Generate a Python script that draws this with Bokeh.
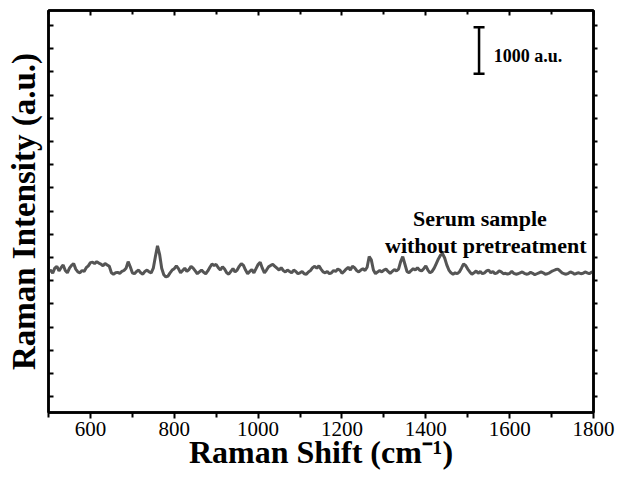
from bokeh.plotting import figure
from bokeh.models import Range1d, FixedTicker, LinearAxis, Label, Whisker, TeeHead
from bokeh.embed import file_html
from bokeh.resources import INLINE

# ---- data ----
raman_shift = list(range(500, 1805, 5))
intensity = [
    2690, 2730, 2660, 2770, 2810, 2710, 2780, 2840, 2720, 2670,
    2770, 2830, 2870, 2750, 2690, 2670, 2720, 2700, 2780, 2820,
    2890, 2900, 2870, 2910, 2880, 2860, 2820, 2870, 2840, 2810,
    2670, 2640, 2670, 2680, 2660, 2700, 2720, 2770, 2910, 2800,
    2670, 2650, 2700, 2730, 2670, 2640, 2700, 2730, 2690, 2670,
    2770, 3020, 3250, 3070, 2770, 2630, 2580, 2600, 2670, 2730,
    2760, 2820, 2760, 2670, 2720, 2770, 2700, 2740, 2810, 2770,
    2710, 2650, 2690, 2730, 2680, 2650, 2710, 2790, 2860, 2830,
    2850, 2780, 2730, 2800, 2750, 2670, 2640, 2700, 2760, 2690,
    2730, 2810, 2870, 2830, 2730, 2650, 2700, 2740, 2670, 2760,
    2850, 2900, 2770, 2670, 2730, 2800, 2830, 2850, 2810, 2770,
    2730, 2780, 2720, 2690, 2730, 2700, 2670, 2730, 2700, 2650,
    2670, 2700, 2650, 2640, 2690, 2720, 2780, 2810, 2770, 2820,
    2750, 2690, 2670, 2700, 2650, 2670, 2720, 2700, 2750, 2730,
    2660, 2700, 2750, 2790, 2730, 2810, 2780, 2720, 2690, 2730,
    2760, 2720, 2790, 3020, 2950, 2730, 2650, 2690, 2720, 2690,
    2730, 2750, 2700, 2660, 2700, 2740, 2710, 2750, 2910, 3020,
    2860, 2700, 2670, 2720, 2760, 2730, 2780, 2730, 2710, 2760,
    2820, 2730, 2670, 2700, 2770, 2870, 2970, 3050, 3080, 2990,
    2840, 2730, 2670, 2640, 2670, 2650, 2690, 2770, 2860, 2830,
    2750, 2690, 2640, 2670, 2710, 2660, 2700, 2650, 2670, 2710,
    2730, 2670, 2700, 2650, 2670, 2710, 2690, 2650, 2660, 2640,
    2660, 2700, 2660, 2640, 2650, 2670, 2690, 2660, 2640, 2650,
    2680, 2660, 2630, 2650, 2670, 2690, 2670, 2640, 2650, 2670,
    2700, 2720, 2740, 2750, 2710, 2670, 2650, 2640, 2660, 2690,
    2670, 2640, 2660, 2670, 2650, 2660, 2690, 2670, 2650, 2680,
    2700,
]
x_ticks = [600, 800, 1000, 1200, 1400, 1600, 1800]
x_minor_ticks = [500, 700, 900, 1100, 1300, 1500, 1700]
y_ticks = [0, 500, 1000, 1500, 2000, 2500, 3000, 3500, 4000, 4500,
           5000, 5500, 6000, 6500, 7000, 7500, 8000]
scale_bar = {"x": 1527, "low": 6960, "high": 7960, "label": "1000 a.u."}
annotation_lines = ["Serum sample", "without pretreatment"]
x_title = "Raman Shift (cm\u207b\u00b9)"
y_title = "Raman Intensity (a.u.)"

SERIF = "Liberation Serif"

p = figure(width=618, height=477, output_backend="svg", toolbar_location=None,
           x_range=Range1d(500, 1800), y_range=Range1d(-340, 8323),
           min_border_left=48, min_border_right=25, min_border_top=10,
           min_border_bottom=65)
p.grid.visible = False
p.outline_line_color = "black"
p.outline_line_width = 2.5
p.background_fill_color = "white"
p.border_fill_color = "white"

p.line(raman_shift, intensity, line_color="#555555", line_width=3)

# bottom axis
xa = p.xaxis[0]
xa.ticker = FixedTicker(ticks=x_ticks, minor_ticks=x_minor_ticks)
xa.axis_line_width = 2.5
xa.major_tick_line_width = 2
xa.minor_tick_line_width = 2
xa.major_tick_out = 6
xa.major_tick_in = 0
xa.minor_tick_out = 5
xa.minor_tick_in = 0
xa.major_label_text_font = SERIF
xa.major_label_text_font_size = "21px"
xa.major_label_text_color = "black"
xa.major_label_standoff = 3
xa.axis_label = x_title
xa.axis_label_text_font = SERIF
xa.axis_label_text_font_style = "bold"
xa.axis_label_text_font_size = "32px"
xa.axis_label_text_color = "black"
xa.axis_label_standoff = -5

blank_y = {v: "" for v in y_ticks}
blank_x = {v: "" for v in x_ticks}

# left axis (no tick labels)
ya = p.yaxis[0]
ya.ticker = FixedTicker(ticks=y_ticks)
ya.axis_line_width = 2.5
ya.major_tick_line_width = 2
ya.major_tick_in = 5
ya.major_tick_out = 0
ya.minor_tick_in = 0
ya.minor_tick_out = 0
ya.major_label_overrides = blank_y
ya.major_label_standoff = 0
ya.axis_label = y_title
ya.axis_label_text_font = SERIF
ya.axis_label_text_font_style = "bold"
ya.axis_label_text_font_size = "33px"
ya.axis_label_text_color = "black"
ya.axis_label_standoff = 7

# top and right mirror axes
top = LinearAxis(ticker=FixedTicker(ticks=x_ticks, minor_ticks=x_minor_ticks),
                 axis_line_width=2.5, major_tick_line_width=2, minor_tick_line_width=2,
                 major_tick_in=5, major_tick_out=0, minor_tick_in=4, minor_tick_out=0,
                 major_label_overrides=blank_x, major_label_standoff=0)
p.add_layout(top, "above")
right = LinearAxis(ticker=FixedTicker(ticks=y_ticks),
                   axis_line_width=2.5, major_tick_line_width=2,
                   major_tick_in=0, major_tick_out=4, minor_tick_in=0, minor_tick_out=0,
                   major_label_overrides=blank_y, major_label_standoff=0)
p.add_layout(right, "right")

# scale bar
wh = Whisker(base=scale_bar["x"], lower=scale_bar["low"], upper=scale_bar["high"],
             dimension="height", line_color="black", line_width=2.5,
             upper_head=TeeHead(size=11, line_width=2.5, line_color="black"),
             lower_head=TeeHead(size=11, line_width=2.5, line_color="black"))
p.add_layout(wh)
p.add_layout(Label(x=1562, y=7353, text=scale_bar["label"], text_font=SERIF,
                   text_font_style="bold", text_font_size="18px", text_color="black",
                   text_baseline="alphabetic", text_align="left"))

# sample annotation
p.add_layout(Label(x=1529, y=3841, text=annotation_lines[0], text_font=SERIF,
                   text_font_style="bold", text_font_size="22px", text_color="black",
                   text_baseline="alphabetic", text_align="center"))
p.add_layout(Label(x=1543, y=3259, text=annotation_lines[1], text_font=SERIF,
                   text_font_style="bold", text_font_size="22px", text_color="black",
                   text_baseline="alphabetic", text_align="center"))

open("out.html", "w").write(file_html(p, INLINE))
